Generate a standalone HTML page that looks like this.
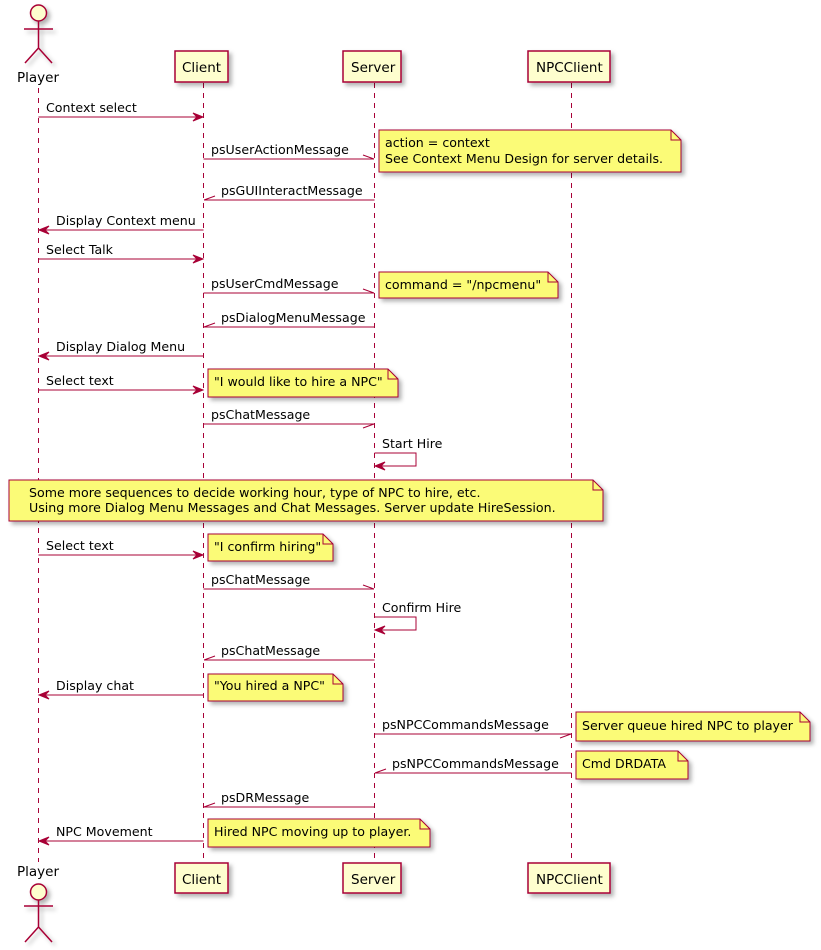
<!DOCTYPE html>
<html><head><meta charset="utf-8"><style>
html,body{margin:0;padding:0;background:#fff;}
svg{display:block;font-family:"DejaVu Sans",sans-serif;font-size:12.6px;}
</style></head><body>
<svg width="821" height="950" xmlns="http://www.w3.org/2000/svg">
<defs>
<filter id="sh" x="-10%" y="-10%" width="130%" height="150%"><feDropShadow dx="3" dy="3" stdDeviation="2" flood-color="#000" flood-opacity="0.3"/></filter>
</defs>
<g stroke="#A80036" stroke-width="1" stroke-dasharray="5,5">
<line x1="38.5" y1="88" x2="38.5" y2="862"/>
<line x1="203.5" y1="83" x2="203.5" y2="862"/>
<line x1="374.5" y1="83" x2="374.5" y2="862"/>
<line x1="571.5" y1="83" x2="571.5" y2="862"/>
</g>
<g fill="#FEFECE" stroke="#A80036" stroke-width="1.5" filter="url(#sh)">
<rect x="175" y="51" width="53" height="31"/>
<rect x="343" y="51" width="58" height="31"/>
<rect x="528" y="51" width="82" height="31"/>
<rect x="175" y="863" width="53" height="30"/>
<rect x="343" y="863" width="58" height="30"/>
<rect x="528" y="863" width="82" height="30"/>
<circle cx="38.5" cy="13" r="8"/>
<circle cx="38.5" cy="892" r="8"/>
</g>
<g stroke="#A80036" stroke-width="1.5" fill="none" filter="url(#sh)">
<path d="M38.5 21 V48 M24 29 H53 M38.5 48 L25 63 M38.5 48 L52 63"/>
<path d="M38.5 900 V927 M24 906 H53 M38.5 927 L25 942 M38.5 927 L52 942"/>
</g>
<g fill="#000" font-size="13.5">
<text x="17" y="82">Player</text>
<text x="182" y="72">Client</text>
<text x="351" y="72">Server</text>
<text x="536" y="72">NPCClient</text>
<text x="17" y="876">Player</text>
<text x="182" y="884">Client</text>
<text x="351" y="884">Server</text>
<text x="536" y="884">NPCClient</text>
</g>
<g stroke="#A80036" stroke-width="1" fill="none">
<line x1="38.5" y1="117" x2="202" y2="117"/>
<line x1="203.5" y1="159" x2="374" y2="159"/><line x1="374" y1="159" x2="363" y2="155"/>
<line x1="204" y1="200" x2="374.5" y2="200"/><line x1="204" y1="200" x2="215" y2="196"/>
<line x1="40" y1="230" x2="203.5" y2="230"/>
<line x1="38.5" y1="259" x2="202" y2="259"/>
<line x1="203.5" y1="293" x2="374" y2="293"/><line x1="374" y1="293" x2="363" y2="289"/>
<line x1="204" y1="327" x2="374.5" y2="327"/><line x1="204" y1="327" x2="215" y2="323"/>
<line x1="40" y1="356" x2="203.5" y2="356"/>
<line x1="38.5" y1="390" x2="202" y2="390"/>
<line x1="203.5" y1="424" x2="374" y2="424"/><line x1="374" y1="424" x2="363" y2="428"/>
<path d="M374.5 453 H416 V466 H376"/>
<line x1="38.5" y1="555" x2="202" y2="555"/>
<line x1="203.5" y1="589" x2="374" y2="589"/><line x1="374" y1="589" x2="363" y2="585"/>
<path d="M374.5 617 H416 V630 H376"/>
<line x1="204" y1="660" x2="374.5" y2="660"/><line x1="204" y1="660" x2="215" y2="656"/>
<line x1="40" y1="695" x2="203.5" y2="695"/>
<line x1="374.5" y1="734" x2="571" y2="734"/><line x1="571" y1="734" x2="560" y2="738"/>
<line x1="375" y1="773" x2="571.5" y2="773"/><line x1="375" y1="773" x2="386" y2="769"/>
<line x1="204" y1="807" x2="374.5" y2="807"/><line x1="204" y1="807" x2="215" y2="803"/>
<line x1="40" y1="841" x2="203.5" y2="841"/>
</g>
<g fill="#A80036" stroke="#A80036">
<polygon points="203,117 193,113 197,117 193,121"/>
<polygon points="39,230 49,226 45,230 49,234"/>
<polygon points="203,259 193,255 197,259 193,263"/>
<polygon points="39,356 49,352 45,356 49,360"/>
<polygon points="203,390 193,386 197,390 193,394"/>
<polygon points="375,466 385,462 381,466 385,470"/>
<polygon points="203,555 193,551 197,555 193,559"/>
<polygon points="375,630 385,626 381,630 385,634"/>
<polygon points="39,695 49,691 45,695 49,699"/>
<polygon points="39,841 49,837 45,841 49,845"/>
</g>
<g fill="#000">
<text x="46" y="112">Context select</text>
<text x="211" y="154">psUserActionMessage</text>
<text x="221" y="195">psGUIInteractMessage</text>
<text x="56" y="225">Display Context menu</text>
<text x="46" y="254">Select Talk</text>
<text x="211" y="288">psUserCmdMessage</text>
<text x="221" y="322">psDialogMenuMessage</text>
<text x="56" y="351">Display Dialog Menu</text>
<text x="46" y="385">Select text</text>
<text x="211" y="419">psChatMessage</text>
<text x="382" y="448">Start Hire</text>
<text x="46" y="550">Select text</text>
<text x="211" y="584">psChatMessage</text>
<text x="382" y="612">Confirm Hire</text>
<text x="221" y="655">psChatMessage</text>
<text x="56" y="690">Display chat</text>
<text x="382" y="729">psNPCCommandsMessage</text>
<text x="392" y="768">psNPCCommandsMessage</text>
<text x="221" y="802">psDRMessage</text>
<text x="56" y="836">NPC Movement</text>
</g>
<g fill="#FBFB77" stroke="#A80036" stroke-width="1" filter="url(#sh)">
<path d="M379 130 H671 L681 140 V172 H379 Z"/>
<path d="M379 272 H548 L558 282 V298 H379 Z"/>
<path d="M208 369 H388 L398 379 V397 H208 Z"/>
<path d="M9 480 H593 L603 490 V521 H9 Z"/>
<path d="M208 534 H323 L333 544 V561 H208 Z"/>
<path d="M208 674 H333 L343 684 V701 H208 Z"/>
<path d="M576 712 H800 L810 722 V741 H576 Z"/>
<path d="M576 751 H678 L688 761 V779 H576 Z"/>
<path d="M208 819 H420 L430 829 V847 H208 Z"/>
</g>
<g fill="none" stroke="#A80036" stroke-width="1">
<path d="M671 130 V140 H681"/><path d="M548 272 V282 H558"/><path d="M388 369 V379 H398"/>
<path d="M593 480 V490 H603"/><path d="M323 534 V544 H333"/><path d="M333 674 V684 H343"/>
<path d="M800 712 V722 H810"/><path d="M678 751 V761 H688"/><path d="M420 819 V829 H430"/>
</g>
<g fill="#000">
<text x="385" y="147">action = context</text>
<text x="385" y="163">See Context Menu Design for server details.</text>
<text x="385" y="289">command = "/npcmenu"</text>
<text x="214" y="386">"I would like to hire a NPC"</text>
<text x="29" y="497">Some more sequences to decide working hour, type of NPC to hire, etc.</text>
<text x="29" y="512">Using more Dialog Menu Messages and Chat Messages. Server update HireSession.</text>
<text x="214" y="551">"I confirm hiring"</text>
<text x="214" y="690">"You hired a NPC"</text>
<text x="582" y="730">Server queue hired NPC to player</text>
<text x="582" y="768">Cmd DRDATA</text>
<text x="214" y="836">Hired NPC moving up to player.</text>
</g>
</svg>
</body></html>
